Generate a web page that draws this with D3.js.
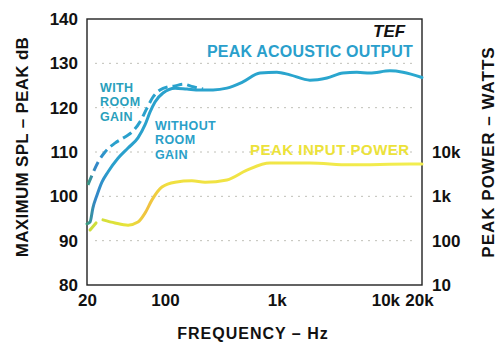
<!DOCTYPE html>
<html>
<head>
<meta charset="utf-8">
<script src="https://cdn.jsdelivr.net/npm/d3@7"></script>
<style>
  body { margin: 0; background: #fff; }
  svg { display: block; }
</style>
</head>
<body>
<svg width="499" height="343"></svg>
<script>
// peak acoustic output, without room gain (Hz, dB SPL)
const outFreq = [20, 21.3, 22.6, 24.6, 27.2, 30.8, 37.9, 46.6, 57.2, 66.1, 73.3, 81.3, 95.8, 123, 157, 205, 269, 358, 498, 708, 1004, 1313, 1982, 2817, 3918, 5224, 6832, 10330, 13500, 20000];
const outDb = [93.8, 94.2, 97.4, 100.3, 103.2, 105.5, 108.6, 110.9, 113.2, 116.1, 119.0, 121.3, 123.3, 124.4, 124.2, 124.0, 124.0, 124.4, 125.8, 127.8, 128.0, 127.4, 126.2, 126.7, 127.8, 128.0, 127.8, 128.3, 128.0, 126.8];

// with room gain (dashed), low end only
const roomFreq = [20.4, 22.2, 25.1, 29.0, 35.6, 43.8, 50.6, 59.6, 68.9, 78.0, 90.1, 106, 123, 145, 178, 219];
const roomDb = [102.6, 104.8, 107.7, 110.0, 112.0, 113.4, 114.5, 116.8, 119.9, 122.4, 124.0, 124.7, 124.9, 125.3, 124.7, 124.2];

// peak input power (Hz, watts)
const powStubFreq = [21.3, 24.1];
const powStubW = [174, 251];
const powFreq = [27.8, 35.6, 46.6, 57.2, 66.1, 76.4, 93.8, 123, 174, 228, 358, 541, 870, 1982, 4520, 15600, 20000];
const powW = [295, 251, 224, 263, 417, 832, 1622, 2089, 2239, 2089, 2344, 3890, 5623, 5623, 5129, 5370, 5370];

const xTicks = [20, 100, 1000, 10000, 20000];
const xLabels = ["20", "100", "1k", "10k", "20k"];
const yTicks = [80, 90, 100, 110, 120, 130, 140];
const gridTicks = [90, 100, 110, 120, 130];
const wTicks = [10, 100, 1000, 10000];
const wLabels = ["10", "100", "1k", "10k"];

const FONT = "'Liberation Sans', Arial, Helvetica, sans-serif";

const svg = d3.select("svg")
  .attr("font-family", FONT)
  .attr("font-weight", "bold");
const width = +svg.attr("width");
const height = +svg.attr("height");
const margin = { top: 19, right: 77, bottom: 58, left: 87 };
const innerWidth = width - margin.left - margin.right;
const innerHeight = height - margin.top - margin.bottom;

const xScale = d3.scaleLog().domain([20, 20000]).range([0, innerWidth]);
const yScale = d3.scaleLinear().domain([80, 140]).range([innerHeight, 0]);
// 10 dB per decade of watts, 10 W sits on 80 dB
const wScale = d3.scaleLog().domain([10, 1e7]).range([innerHeight, 0]);

const g = svg.append("g").attr("transform", `translate(${margin.left},${margin.top})`);

// gradients along x for the scanned colour shifts
const defs = svg.append("defs");
const blueGrad = defs.append("linearGradient").attr("id", "blueGrad")
  .attr("gradientUnits", "userSpaceOnUse").attr("x1", 0).attr("x2", innerWidth).attr("y1", 0).attr("y2", 0);
[[0, "#3a9a7a"], [0.025, "#3486c8"], [0.07, "#2aa0cc"], [1, "#2aa8cf"]].forEach(s =>
  blueGrad.append("stop").attr("offset", s[0]).attr("stop-color", s[1]));
const yelGrad = defs.append("linearGradient").attr("id", "yelGrad")
  .attr("gradientUnits", "userSpaceOnUse").attr("x1", 0).attr("x2", innerWidth).attr("y1", 0).attr("y2", 0);
[[0, "#c8dc3a"], [0.12, "#e8e43a"], [0.18, "#f0c040"], [0.24, "#f0e040"], [1, "#f2ee50"]].forEach(s =>
  yelGrad.append("stop").attr("offset", s[0]).attr("stop-color", s[1]));

// faint dotted grid
g.selectAll(".grid").data(gridTicks).enter().append("line")
  .attr("x1", 8).attr("x2", innerWidth - 10)
  .attr("y1", d => yScale(d)).attr("y2", d => yScale(d))
  .attr("stroke", "#c0c0b8").attr("stroke-width", 1).attr("stroke-dasharray", "2,5");

// frame
g.append("rect").attr("width", innerWidth).attr("height", innerHeight)
  .attr("fill", "none").attr("stroke", "#222").attr("stroke-width", 1.4);

// axes
const styleAxis = (sel) => {
  sel.attr("font-family", FONT).attr("font-size", 17).attr("font-weight", "bold");
  sel.select(".domain").remove();
  sel.selectAll("text").attr("fill", "#111");
};

const yAxisG = g.append("g").call(d3.axisLeft(yScale).tickValues(yTicks).tickSize(0).tickPadding(9));
styleAxis(yAxisG);

const wAxisG = g.append("g").attr("transform", `translate(${innerWidth},0)`)
  .call(d3.axisRight(wScale).tickValues(wTicks).tickFormat((d, i) => wLabels[i]).tickSize(0).tickPadding(10));
styleAxis(wAxisG);

const xAxisG = g.append("g").attr("transform", `translate(0,${innerHeight})`)
  .call(d3.axisBottom(xScale).tickValues(xTicks).tickFormat((d, i) => xLabels[i]).tickSize(0).tickPadding(9));
styleAxis(xAxisG);
xAxisG.selectAll("text").attr("dx", (d) => (d >= 10000 ? -3 : 0));

// curves
const line = d3.line().curve(d3.curveMonotoneX);
const toPts = (fs, vs, sc) => fs.map((f, i) => [xScale(f), sc(vs[i])]);

g.append("path").attr("d", line(toPts(powStubFreq, powStubW, wScale)))
  .attr("fill", "none").attr("stroke", "url(#yelGrad)").attr("stroke-width", 3).attr("stroke-linecap", "round");
g.append("path").attr("d", line(toPts(powFreq, powW, wScale)))
  .attr("fill", "none").attr("stroke", "url(#yelGrad)").attr("stroke-width", 3).attr("stroke-linecap", "round");

g.append("path").attr("d", line(toPts(roomFreq, roomDb, yScale)))
  .attr("fill", "none").attr("stroke", "url(#blueGrad)").attr("stroke-width", 3)
  .attr("stroke-dasharray", "10,5");
g.append("path").attr("d", line(toPts(outFreq, outDb, yScale)))
  .attr("fill", "none").attr("stroke", "url(#blueGrad)").attr("stroke-width", 3).attr("stroke-linecap", "round");

// labels inside the plot
const label = (x, y, txt, color, size, style, spacing) => svg.append("text")
  .attr("x", x).attr("y", y).text(txt).attr("fill", color)
  .attr("font-size", size).attr("font-style", style || "normal")
  .attr("letter-spacing", spacing || 0);

label(373, 37, "TEF", "#111", 17, "italic");
label(207, 57, "PEAK ACOUSTIC OUTPUT", "#2a9fcc", 16, "normal", 0.2);
label(250, 155, "PEAK INPUT POWER", "#ece23a", 15, "normal", 0.5);
["WITH", "ROOM", "GAIN"].forEach((t, i) => label(100, 92 + i * 14.3, t, "#2a9fbc", 12.5, "normal", 0.4));
["WITHOUT", "ROOM", "GAIN"].forEach((t, i) => label(155, 130 + i * 14.3, t, "#2aa0c8", 12.5, "normal", 0.4));

// axis titles
svg.append("text").attr("transform", "translate(28,147) rotate(-90)")
  .attr("text-anchor", "middle").attr("font-size", 17).attr("letter-spacing", 0.3).attr("fill", "#111")
  .text("MAXIMUM SPL – PEAK dB");
svg.append("text").attr("transform", "translate(494,152) rotate(-90)")
  .attr("text-anchor", "middle").attr("font-size", 17).attr("letter-spacing", 1).attr("fill", "#111")
  .text("PEAK POWER – WATTS");
svg.append("text").attr("x", 253).attr("y", 339)
  .attr("text-anchor", "middle").attr("font-size", 16).attr("letter-spacing", 1).attr("fill", "#111")
  .text("FREQUENCY – Hz");
</script>
</body>
</html>
